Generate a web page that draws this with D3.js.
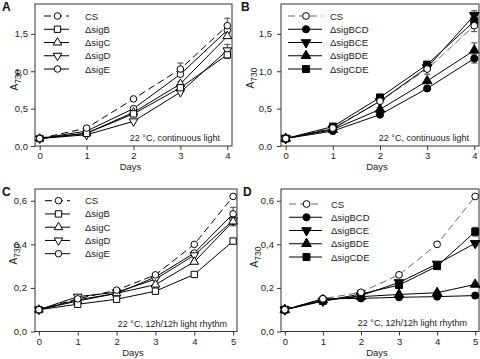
<!DOCTYPE html>
<html>
<head>
<meta charset="utf-8">
<script src="https://cdn.jsdelivr.net/npm/d3@7"></script>
<style>
body { margin: 0; background: #fff; }
svg { display: block; font-family: Arial, "Liberation Sans", Helvetica, sans-serif; }
</style>
</head>
<body>
<svg id="chart" width="480" height="359"></svg>
<script>
// Growth curves (A730) of sigma factor mutants, 4 panels

const days4 = [0, 1, 2, 3, 4];
const days5 = [0, 1, 2, 3, 4, 5];

const namesSingle = ["CS", "\u0394sigB", "\u0394sigC", "\u0394sigD", "\u0394sigE"];
const namesTriple = ["CS", "\u0394sigBCD", "\u0394sigBCE", "\u0394sigBDE", "\u0394sigCDE"];

// A: single mutants, continuous light
const aCS   = [0.10, 0.24, 0.63, 1.03, 1.61];
const aSigB = [0.10, 0.17, 0.43, 0.78, 1.22];
const aSigC = [0.10, 0.17, 0.45, 0.83, 1.47];
const aSigD = [0.10, 0.15, 0.33, 0.72, 1.28];
const aSigE = [0.10, 0.20, 0.50, 0.96, 1.55];
const aErr  = [[0, 4, 0.10], [0, 3, 0.08], [0, 2, 0.02], [3, 4, 0.08], [1, 4, 0.05], [2, 3, 0.03]];

// B: triple mutants, continuous light
const bCS     = [0.10, 0.24, 0.60, 1.03, 1.61];
const bSigBCD = [0.10, 0.20, 0.42, 0.77, 1.17];
const bSigBCE = [0.10, 0.23, 0.60, 1.05, 1.75];
const bSigBDE = [0.10, 0.22, 0.49, 0.87, 1.28];
const bSigCDE = [0.10, 0.26, 0.65, 1.09, 1.67];
const bErr    = [[0, 4, 0.08], [0, 3, 0.07], [2, 4, 0.06], [3, 4, 0.10], [1, 4, 0.06], [4, 3, 0.04], [4, 4, 0.06]];

// C: single mutants, 12h/12h light
const cCS   = [0.10, 0.15, 0.19, 0.26, 0.40, 0.62];
const cSigB = [0.10, 0.125, 0.148, 0.185, 0.262, 0.415];
const cSigC = [0.10, 0.14, 0.175, 0.215, 0.32, 0.505];
const cSigD = [0.10, 0.16, 0.18, 0.24, 0.35, 0.51];
const cSigE = [0.10, 0.145, 0.175, 0.25, 0.36, 0.54];
const cErr  = [[4, 5, 0.03], [3, 5, 0.02], [2, 5, 0.02], [0, 5, 0.01]];

// D: triple mutants, 12h/12h light
const dCS     = [0.10, 0.15, 0.18, 0.26, 0.40, 0.62];
const dSigBCD = [0.10, 0.15, 0.152, 0.157, 0.16, 0.165];
const dSigBCE = [0.10, 0.14, 0.165, 0.225, 0.31, 0.405];
const dSigBDE = [0.10, 0.145, 0.16, 0.17, 0.178, 0.216];
const dSigCDE = [0.10, 0.14, 0.172, 0.213, 0.30, 0.458];
const dErr    = [[4, 5, 0.02], [2, 5, 0.01]];

const ticksBig = [0, 0.5, 1.0, 1.5];
const ticksSmall = [0, 0.2, 0.4, 0.6];

const commaFmt = d => d.toFixed(1).replace(".", ",");

// marker styles
const openSingle = [
    { type: d3.symbolCircle, size: 34, rot: 0, fill: "#fff" },
    { type: d3.symbolSquare, size: 40, rot: 0, fill: "#fff" },
    { type: d3.symbolTriangle, size: 32, rot: 0, fill: "#fff" },
    { type: d3.symbolTriangle, size: 32, rot: 180, fill: "#fff" },
    { type: d3.symbolCircle, size: 34, rot: 0, fill: "#fff" }
];
const filledTriple = [
    { type: d3.symbolCircle, size: 36, rot: 0, fill: "#fff" },
    { type: d3.symbolCircle, size: 40, rot: 0, fill: "#000" },
    { type: d3.symbolTriangle, size: 40, rot: 180, fill: "#000" },
    { type: d3.symbolTriangle, size: 40, rot: 0, fill: "#000" },
    { type: d3.symbolSquare, size: 48, rot: 0, fill: "#000" }
];

const panels = [
    { letter: "A", letterX: 2, left: 35, right: 232, top: 4, bottom: 146, days: days4, yMax: 1.9, ticks: ticksBig,
      series: [aCS, aSigB, aSigC, aSigD, aSigE], names: namesSingle, marks: openSingle, err: aErr,
      csColor: "#000", zeroLabel: "0,0", tickPad: 3, ylabOff: 17, ylabY: 80,
      legX: 9, legLen: 25, legText: 50, legY: 12,
      note: "22 \u00B0C, continuous light", noteX: 220, noteY: 140.5 },
    { letter: "B", letterX: 241, left: 281, right: 479, top: 4, bottom: 146, days: days4, yMax: 1.9, ticks: ticksBig,
      series: [bCS, bSigBCD, bSigBCE, bSigBDE, bSigCDE], names: namesTriple, marks: filledTriple, err: bErr,
      csColor: "#666", zeroLabel: "0.0", tickPad: 5, ylabOff: 27, ylabY: 78,
      legX: 7, legLen: 34, legText: 49, legY: 12,
      note: "22 \u00B0C, continuous light", noteX: 469, noteY: 140.5 },
    { letter: "C", letterX: 2, left: 35, right: 237, top: 189, bottom: 331.5, days: days5, yMax: 0.654, ticks: ticksSmall,
      series: [cCS, cSigB, cSigC, cSigD, cSigE], names: namesSingle, marks: openSingle, err: cErr,
      csColor: "#000", zeroLabel: "0,0", tickPad: 4, ylabOff: 18, ylabY: 254,
      legX: 10, legLen: 25, legText: 50, legY: 11.7,
      note: "22 \u00B0C, 12h/12h light rhythm", noteX: 227, noteY: 326.5 },
    { letter: "D", letterX: 243, left: 281, right: 479, top: 189, bottom: 331.5, days: days5, yMax: 0.654, ticks: ticksSmall,
      series: [dCS, dSigBCD, dSigBCE, dSigBDE, dSigCDE], names: namesTriple, marks: filledTriple, err: dErr,
      csColor: "#666", zeroLabel: "0,0", tickPad: 3, ylabOff: 23, ylabY: 257,
      legX: 8, legLen: 33, legText: 50, legY: 15,
      note: "22 \u00B0C, 12h/12h light rhythm", noteX: 467, noteY: 325.5 }
];

const svg = d3.select("#chart");

function drawMarker(g, m, cx, cy, stroke) {
    g.append("path")
        .attr("d", d3.symbol().type(m.type).size(m.size)())
        .attr("transform", `translate(${cx},${cy}) rotate(${m.rot})`)
        .attr("fill", m.fill)
        .attr("stroke", stroke)
        .attr("stroke-width", 1);
}

function drawPanel(p) {
    const lastDay = p.days[p.days.length - 1];
    const x = d3.scaleLinear().domain([-0.1, lastDay + 0.1]).range([p.left, p.right]);
    const y = d3.scaleLinear().domain([0, p.yMax]).range([p.bottom, p.top]);

    const g = svg.append("g");

    // axes
    const xAxis = g.append("g")
        .attr("transform", `translate(0,${p.bottom})`)
        .call(d3.axisBottom(x).tickValues(p.days).tickSize(4).tickPadding(2.5).tickFormat(d3.format("d")));
    const yAxis = g.append("g")
        .attr("transform", `translate(${p.left},0)`)
        .call(d3.axisLeft(y).tickValues(p.ticks).tickSize(4).tickPadding(p.tickPad)
            .tickFormat(d => d === 0 ? p.zeroLabel : commaFmt(d)));

    [xAxis, yAxis].forEach(a => {
        a.select(".domain").remove();
        a.selectAll("line").attr("stroke", "#333");
        a.selectAll("text").attr("fill", "#222").style("font-size", "9.5px").style("font-family", "Arial, 'Liberation Sans', sans-serif");
    });

    // frame
    g.append("rect")
        .attr("x", p.left).attr("y", p.top)
        .attr("width", p.right - p.left).attr("height", p.bottom - p.top)
        .attr("fill", "none").attr("stroke", "#333").attr("stroke-width", 1);

    // axis titles
    g.append("text")
        .attr("x", (p.left + p.right) / 2 - 3)
        .attr("y", p.bottom + 24)
        .attr("text-anchor", "middle")
        .attr("fill", "#222")
        .style("font-size", "9.5px")
        .text("Days");

    const yl = g.append("text")
        .attr("transform", `translate(${p.left - p.ylabOff},${p.ylabY}) rotate(-90)`)
        .attr("text-anchor", "middle")
        .attr("fill", "#222")
        .style("font-size", "10px");
    yl.append("tspan").text("A");
    yl.append("tspan").attr("dy", "0.35em").style("font-size", "8.5px").text("730");

    // panel letter
    g.append("text")
        .attr("x", p.letterX)
        .attr("y", p.top + 7)
        .attr("fill", "#111")
        .style("font-size", "12px")
        .style("font-weight", "bold")
        .text(p.letter);

    // note
    g.append("text")
        .attr("x", p.noteX)
        .attr("y", p.noteY)
        .attr("text-anchor", "end")
        .attr("fill", "#222")
        .style("font-size", "9px")
        .text(p.note);

    const line = d3.line().x((d, i) => x(p.days[i])).y(d => y(d));

    // lines
    p.series.forEach((vals, si) => {
        g.append("path")
            .attr("d", line(vals))
            .attr("fill", "none")
            .attr("stroke", si === 0 ? p.csColor : "#000")
            .attr("stroke-width", 1)
            .attr("stroke-dasharray", si === 0 ? "7,4" : null);
    });

    // error bars
    p.err.forEach(([si, day, e]) => {
        const v = p.series[si][day];
        const cx = x(day);
        g.append("line")
            .attr("x1", cx).attr("x2", cx)
            .attr("y1", y(v - e)).attr("y2", y(v + e))
            .attr("stroke", "#444").attr("stroke-width", 1);
        [v - e, v + e].forEach(t => {
            g.append("line")
                .attr("x1", cx - 3).attr("x2", cx + 3)
                .attr("y1", y(t)).attr("y2", y(t))
                .attr("stroke", "#444").attr("stroke-width", 1);
        });
    });

    // markers, drawn last series first so CS stays on top
    d3.range(p.series.length - 1, -1, -1).forEach(si => {
        p.series[si].forEach((v, i) => {
            drawMarker(g, p.marks[si], x(p.days[i]), y(v), "#000");
        });
    });

    // legend
    p.names.forEach((name, si) => {
        const ly = p.top + p.legY + si * 13.25;
        const lx0 = p.left + p.legX;
        const lx1 = lx0 + p.legLen;
        g.append("line")
            .attr("x1", lx0).attr("x2", lx1)
            .attr("y1", ly).attr("y2", ly)
            .attr("stroke", si === 0 ? p.csColor : "#000")
            .attr("stroke-width", 1)
            .attr("stroke-dasharray", si === 0 ? "7,4" : null);
        drawMarker(g, p.marks[si], (lx0 + lx1) / 2 + 1, ly, "#000");
        g.append("text")
            .attr("x", p.left + p.legText)
            .attr("y", ly + 3.5)
            .attr("fill", "#222")
            .style("font-size", "9.5px")
            .text(name);
    });
}

panels.forEach(drawPanel);
</script>
</body>
</html>
